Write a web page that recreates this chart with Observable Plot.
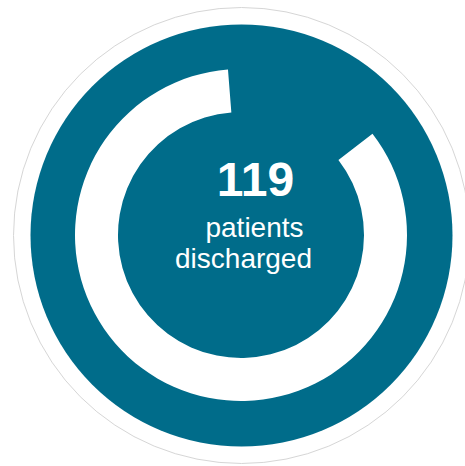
<!DOCTYPE html>
<html>
<head>
<meta charset="utf-8">
<script src="https://cdn.jsdelivr.net/npm/d3@7"></script>
<script src="https://cdn.jsdelivr.net/npm/@observablehq/plot@0.6"></script>
<style>
  html, body { margin: 0; padding: 0; background: #ffffff; }
  #chart svg { display: block; background: transparent; }
</style>
</head>
<body>
<div id="chart"></div>
<script>
// ---- data ----
const headline = ["119"];
const labelLines = ["patients", "discharged"];
const segments = ["discharged", "remaining"];
const shares = [84.2, 15.8];          // percent of the ring filled / left open

// ---- geometry & styling (not data) ----
const W = 465, H = 466;
const teal = "#006c8a";
const outerRingR = 228, discR = 211, arcOuter = 166, arcInner = 123;
const arcOffsetDeg = -4.5;             // where the ring ends (degrees from 12 o'clock)

const textRows = [
  {t: headline[0], x: 14, y: 55, size: 48, weight: 700},
  {t: labelLines[0], x: 13, y: 7, size: 28, weight: 400},
  {t: labelLines[1], x: 2, y: -24, size: 28, weight: 400}
];

const angle = d3.scaleLinear().domain([0, 100]).range([0, 2 * Math.PI]);

function ringMark(...args) {
  const scales = args.find(a => a && typeof a.x === "function" && typeof a.y === "function");
  const cx = scales.x(0), cy = scales.y(0);
  const ro = Math.abs(scales.x(arcOuter) - cx);
  const ri = Math.abs(scales.x(arcInner) - cx);
  const end = arcOffsetDeg * Math.PI / 180;
  const start = end - angle(shares[0]);
  const arc = d3.arc().innerRadius(ri).outerRadius(ro);
  const g = d3.create("svg:g");
  g.append("path")
    .attr("transform", `translate(${cx},${cy})`)
    .attr("d", arc({startAngle: start, endAngle: end}))
    .attr("fill", "#ffffff");
  return g.node();
}

const chart = Plot.plot({
  width: W,
  height: H,
  margin: 0,
  x: {domain: [-241, 224], axis: null},
  y: {domain: [-231, 235], axis: null},
  style: {fontFamily: "'Liberation Sans', Arial, Helvetica, sans-serif", background: "transparent"},
  marks: [
    Plot.dot([0], {x: () => 0, y: () => 0, r: outerRingR, fill: "#ffffff", stroke: "#d6d6d6", strokeWidth: 1}),
    Plot.dot([0], {x: () => 0, y: () => 0, r: discR, fill: teal, stroke: "none"}),
    ringMark,
    ...textRows.map(d => Plot.text([d], {
      x: "x", y: "y", text: "t",
      fill: "#ffffff", fontSize: d.size, fontWeight: d.weight, textAnchor: "middle"
    }))
  ]
});
document.getElementById("chart").appendChild(chart);
</script>
</body>
</html>
